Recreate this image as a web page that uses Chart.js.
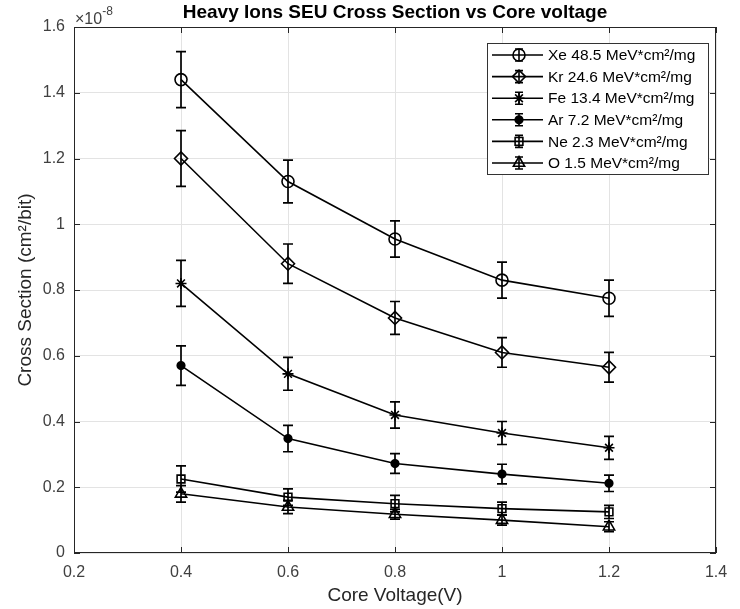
<!DOCTYPE html>
<html>
<head>
<meta charset="utf-8">
<script src="https://cdn.jsdelivr.net/npm/chart.js@4"></script>
<style>
  body { margin: 0; background: #fff; }
  #wrap { width: 740px; height: 609px; position: relative; }
</style>
</head>
<body>
<div id="wrap"><canvas id="seu"></canvas></div>
<script>
// core voltage (V) and cross sections in units of 1e-8 cm^2/bit
const voltages = [0.4, 0.6, 0.8, 1.0, 1.2];
const ionNames = ['Xe 48.5 MeV*cm²/mg', 'Kr 24.6 MeV*cm²/mg', 'Fe 13.4 MeV*cm²/mg',
                  'Ar 7.2 MeV*cm²/mg', 'Ne 2.3 MeV*cm²/mg', 'O 1.5 MeV*cm²/mg'];
const xe = [1.44, 1.13, 0.955, 0.83, 0.775];
const kr = [1.20, 0.88, 0.715, 0.61, 0.565];
const fe = [0.82, 0.545, 0.42, 0.365, 0.32];
const ar = [0.57, 0.348, 0.272, 0.24, 0.212];
const ne = [0.225, 0.17, 0.15, 0.135, 0.125];
const ox = [0.18, 0.14, 0.118, 0.10, 0.08];
// symmetric error bar half-heights, same units
const xeErr = [0.085, 0.065, 0.055, 0.055, 0.055];
const krErr = [0.085, 0.06, 0.05, 0.045, 0.045];
const feErr = [0.07, 0.05, 0.04, 0.035, 0.035];
const arErr = [0.06, 0.04, 0.03, 0.03, 0.025];
const neErr = [0.04, 0.025, 0.025, 0.02, 0.02];
const oxErr = [0.025, 0.02, 0.015, 0.015, 0.015];
const xTicks = [0.2, 0.4, 0.6, 0.8, 1.0, 1.2, 1.4];
const yTicks = [0, 0.2, 0.4, 0.6, 0.8, 1.0, 1.2, 1.4, 1.6];

const series = [xe, kr, fe, ar, ne, ox];
const errs = [xeErr, krErr, feErr, arErr, neErr, oxErr];
const markers = [
  { style: 'circle', r: 6, fill: 'transparent' },
  { style: 'rectRot', r: 6.5, fill: 'transparent' },
  { style: 'star', r: 5.5, fill: 'transparent' },
  { style: 'circle', r: 3.8, fill: '#000' },
  { style: 'rect', r: 5.5, fill: 'transparent' },
  { style: 'triangle', r: 6.5, fill: 'transparent' }
];
const FONT = '"Liberation Sans", Arial, sans-serif';
const AXIS = '#262626';

const datasets = series.map((vals, i) => ({
  label: ionNames[i],
  data: vals.map((v, j) => ({ x: voltages[j], y: v })),
  errs: errs[i],
  borderColor: '#000',
  borderWidth: 1.6,
  tension: 0,
  pointStyle: markers[i].style,
  pointRadius: markers[i].r,
  pointBorderWidth: 1.6,
  pointBorderColor: '#000',
  pointBackgroundColor: markers[i].fill
}));

function fmt(v) { return String(Number(v.toFixed(1))); }

// vertical error bars with caps, placed through the chart scales
const errorBars = {
  id: 'errorBars',
  beforeDatasetsDraw(chart) {
    const ctx = chart.ctx, xs = chart.scales.x, ys = chart.scales.y;
    ctx.save();
    ctx.strokeStyle = '#000';
    ctx.lineWidth = 1.7;
    chart.data.datasets.forEach(ds => {
      ds.data.forEach((p, j) => {
        const px = xs.getPixelForValue(p.x);
        const top = ys.getPixelForValue(p.y + ds.errs[j]);
        const bot = ys.getPixelForValue(p.y - ds.errs[j]);
        ctx.beginPath();
        ctx.moveTo(px, top); ctx.lineTo(px, bot);
        ctx.moveTo(px - 5, top); ctx.lineTo(px + 5, top);
        ctx.moveTo(px - 5, bot); ctx.lineTo(px + 5, bot);
        ctx.stroke();
      });
    });
    ctx.restore();
  }
};

// box, inward ticks, titles, exponent and legend
const decorations = {
  id: 'decorations',
  afterDraw(chart) {
    const ctx = chart.ctx, a = chart.chartArea;
    const xs = chart.scales.x, ys = chart.scales.y;
    ctx.save();
    ctx.strokeStyle = AXIS;
    ctx.lineWidth = 1;
    ctx.strokeRect(a.left + 0.5, a.top + 0.5, a.right - a.left - 1, a.bottom - a.top - 1);
    ctx.beginPath();
    xTicks.forEach(t => {
      const px = Math.round(xs.getPixelForValue(t)) + 0.5;
      ctx.moveTo(px, a.bottom); ctx.lineTo(px, a.bottom - 6);
      ctx.moveTo(px, a.top); ctx.lineTo(px, a.top + 6);
    });
    yTicks.forEach(t => {
      const py = Math.round(ys.getPixelForValue(t)) + 0.5;
      ctx.moveTo(a.left, py); ctx.lineTo(a.left + 6, py);
      ctx.moveTo(a.right, py); ctx.lineTo(a.right - 6, py);
    });
    ctx.stroke();

    const cx = (a.left + a.right) / 2;
    ctx.fillStyle = '#000';
    ctx.textAlign = 'center';
    ctx.textBaseline = 'middle';
    ctx.font = 'bold 19px ' + FONT;
    ctx.fillText('Heavy Ions SEU Cross Section vs Core voltage', cx, 13);

    ctx.fillStyle = AXIS;
    ctx.font = '19px ' + FONT;
    ctx.fillText('Core Voltage(V)', cx, 596);
    ctx.save();
    ctx.translate(26, (a.top + a.bottom) / 2);
    ctx.rotate(-Math.PI / 2);
    ctx.fillText('Cross Section (cm²/bit)', 0, 0);
    ctx.restore();

    ctx.fillStyle = '#404040';
    ctx.textAlign = 'left';
    ctx.textBaseline = 'alphabetic';
    ctx.font = '16px ' + FONT;
    ctx.fillText('×10', a.left + 1, 24);
    const w = ctx.measureText('×10').width;
    ctx.font = '12px ' + FONT;
    ctx.fillText('-8', a.left + 1 + w, 15);

    // legend
    const lx = 487, ly = 43, lw = 221, lh = 131, row = 21.6;
    ctx.fillStyle = '#fff';
    ctx.fillRect(lx, ly, lw, lh);
    ctx.strokeStyle = '#333';
    ctx.lineWidth = 1;
    ctx.strokeRect(lx + 0.5, ly + 0.5, lw, lh);
    chart.data.datasets.forEach((ds, i) => {
      const y = ly + 12 + i * row;
      ctx.strokeStyle = '#000';
      ctx.lineWidth = 1.6;
      ctx.beginPath();
      ctx.moveTo(lx + 5, y); ctx.lineTo(lx + 56, y);
      ctx.moveTo(lx + 32, y - 6); ctx.lineTo(lx + 32, y + 6);
      ctx.moveTo(lx + 28, y - 6); ctx.lineTo(lx + 36, y - 6);
      ctx.moveTo(lx + 28, y + 6); ctx.lineTo(lx + 36, y + 6);
      ctx.stroke();
      ctx.fillStyle = ds.pointBackgroundColor;
      Chart.helpers.drawPoint(ctx, {
        pointStyle: ds.pointStyle, radius: ds.pointRadius, borderWidth: 1.6, rotation: 0
      }, lx + 32, y);
      ctx.fillStyle = '#000';
      ctx.font = '15.5px ' + FONT;
      ctx.textBaseline = 'middle';
      ctx.fillText(ds.label, lx + 61, y + 1);
    });
    ctx.restore();
  }
};

new Chart(document.getElementById('seu'), {
  type: 'line',
  data: { datasets: datasets },
  plugins: [errorBars, decorations],
  options: {
    responsive: true,
    maintainAspectRatio: false,
    animation: false,
    layout: { padding: { top: 27, right: 24, left: 0, bottom: 0 } },
    plugins: { legend: { display: false }, title: { display: false }, tooltip: { enabled: false } },
    scales: {
      x: {
        type: 'linear', min: 0.2, max: 1.4,
        afterBuildTicks: s => { s.ticks = xTicks.map(v => ({ value: v })); },
        afterFit: s => { s.height = 56; },
        grid: { color: '#e3e3e3', drawTicks: false },
        border: { display: false },
        ticks: { padding: 10, color: '#404040', font: { family: FONT, size: 16 }, callback: v => fmt(v), maxRotation: 0 }
      },
      y: {
        min: 0, max: 1.6,
        afterBuildTicks: s => { s.ticks = yTicks.map(v => ({ value: v })); },
        afterFit: s => { s.width = 74; },
        grid: { color: '#e3e3e3', drawTicks: false },
        border: { display: false },
        ticks: { padding: 9, color: '#404040', font: { family: FONT, size: 16 }, callback: v => fmt(v) }
      }
    }
  }
});
</script>
</body>
</html>
